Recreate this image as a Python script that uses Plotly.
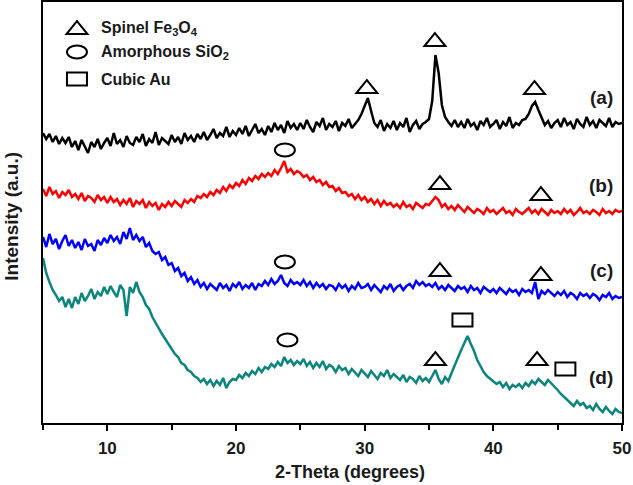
import numpy as np
import plotly.graph_objects as go

# 2-Theta scan grid (degrees)
two_theta = np.round(np.arange(5.0, 50.001, 0.25), 2)

# (a) black
series_a = [
    290, 284, 289, 281, 287, 279, 285, 280, 286, 276,
    282, 273, 283, 277, 270, 281, 276, 284, 274, 280,
    285, 277, 290, 279, 283, 276, 287, 280, 278, 286,
    281, 289, 277, 284, 280, 291, 278, 285, 282, 279,
    288, 281, 286, 279, 290, 283, 287, 281, 289, 284,
    291, 283, 288, 294, 285, 290, 287, 296, 286, 292,
    288, 295, 289, 297, 287, 293, 299, 290, 294, 288,
    297, 291, 300, 293, 298, 290, 302, 295, 299, 293,
    300, 294, 303, 296, 291, 301, 297, 305, 293, 299,
    296, 302, 292, 300, 297, 304, 295, 299, 303, 309,
    318, 325, 312, 300, 296, 303, 292, 299, 295, 302,
    293, 300, 296, 305, 291, 298, 302, 294, 299, 301,
    304, 322, 368, 350, 318, 306, 301, 297, 303, 296,
    301, 295, 304, 297, 300, 293, 302, 298, 305, 296,
    299, 303, 294, 301, 297, 306, 295, 300, 298, 303,
    304, 309, 317, 321, 313, 305, 298, 302, 295, 300,
    303, 296, 305, 298, 301, 294, 304, 299, 296, 306,
    298, 302, 295, 303, 300, 297, 305, 296, 301, 299,
    300,
]

# (b) red
series_b = [
    234, 227, 236, 229, 232, 225, 231, 228, 233, 226,
    229, 224, 230, 222, 227, 225, 221, 228, 223, 226,
    220, 226, 221, 224, 218, 223, 219, 225, 216, 222,
    219, 223, 215, 221, 217, 220, 213, 219, 216, 221,
    217, 222, 219, 216, 223, 220, 224, 221, 227, 225,
    229, 226, 231, 228, 233, 230, 236, 232, 238, 235,
    240, 237, 243, 239, 245, 242, 247, 244, 249, 246,
    250, 247, 253, 249, 255, 262, 251, 254, 249, 252,
    250, 246, 248, 243, 246, 241, 243, 238, 241, 236,
    237, 232, 235, 230, 231, 227, 229, 224, 228, 223,
    226, 221, 224, 219, 223, 217, 222, 218, 220, 216,
    219, 215, 221, 216, 218, 214, 220, 217, 215, 219,
    218, 222, 226, 223, 216, 219, 214, 217, 213, 218,
    215, 211, 216, 213, 210, 214, 212, 209, 215, 211,
    213, 209, 212, 215, 210, 212, 208, 214, 211, 209,
    212, 215, 210, 213, 209, 214, 211, 208, 213, 210,
    212, 209, 214, 210, 213, 208, 211, 215, 210, 212,
    209, 213, 211, 208, 214, 210, 212, 209, 213, 211,
    212,
]

# (c) blue
series_c = [
    186, 176, 189, 179, 184, 174, 182, 188, 177, 183,
    175, 181, 173, 184, 177, 179, 172, 183, 178, 185,
    180, 188, 182, 186, 179, 191, 184, 195, 183, 188,
    182, 186, 176, 180, 172, 169, 171, 163, 166, 158,
    160, 152, 155, 147, 150, 142, 146, 139, 143, 136,
    140, 134, 139, 136, 133, 140, 135, 138, 132, 139,
    136, 141, 134, 138, 135, 140, 133, 139, 137, 142,
    138, 144, 139, 142, 148, 140, 137, 143, 139, 141,
    138, 143, 137, 141, 135, 140, 136, 139, 134, 138,
    137, 133, 139, 135, 138, 132, 137, 134, 140, 135,
    136, 139, 133, 138, 135, 131, 137, 134, 139, 132,
    136, 138, 133, 137, 139, 135, 142, 138, 141, 137,
    139, 136, 140, 134, 137, 133, 138, 135, 132, 137,
    134, 136, 131, 137, 133, 135, 130, 136, 133, 131,
    134, 130, 135, 132, 129, 134, 131, 133, 128, 134,
    131, 133, 130, 141, 124, 132, 129, 133, 130, 127,
    131, 128, 132, 126, 130, 128, 124, 130, 127, 129,
    125, 129, 127, 123, 128, 126, 130, 124, 127, 125,
    126,
]

# (d) teal
series_d = [
    165, 150, 141, 133, 128, 122, 126, 116, 124, 115,
    126, 119, 130, 122, 127, 134, 124, 131, 127, 136,
    129, 137, 131, 126, 138, 133, 107, 136, 130, 141,
    131, 126, 118, 114, 106, 100, 94, 89, 84, 79,
    75, 69, 66, 60, 58, 53, 51, 47, 45, 41,
    44, 39, 43, 37, 42, 38, 45, 35, 41, 44,
    43, 48, 45, 50, 47, 52, 49, 55, 51, 56,
    54, 59, 56, 61, 57, 66, 60, 63, 58, 62,
    59, 64, 57, 61, 55, 60, 56, 62, 54, 58,
    56, 51, 57, 53, 55, 49, 54, 51, 47, 53,
    50, 46, 52, 48, 44, 50, 47, 53, 45, 49,
    46, 43, 48, 41, 46, 44, 40, 47, 42, 45,
    41, 47, 53, 44, 39, 46, 42, 50, 58, 66,
    73, 80, 87, 79, 72, 63, 57, 51, 47, 44,
    42, 39, 41, 36, 40, 34, 38, 36, 39, 35,
    40, 37, 42, 39, 44, 41, 38, 43, 40, 37,
    33, 29, 26, 23, 21, 17, 22, 18, 20, 15,
    17, 13, 19, 14, 11, 16, 12, 9, 14, 11,
    10,
]

series_names = ["(a)", "(b)", "(c)", "(d)"]
series_colors = ["#000000", "#ff0000", "#0000ff", "#0b857d"]
label_x = 48.4
label_y = [326, 238, 153, 46]

# phase markers (2-theta, intensity)
spinel_x = [30.17, 35.46, 43.2, 35.85, 43.7, 35.85, 43.7, 35.5, 43.4]
spinel_y = [336, 383, 335, 240, 229, 153, 149, 64, 64]
silica_x = [23.8, 23.8, 24.0]
silica_y = [273, 161, 83]
gold_x = [37.6, 45.6]
gold_y = [103, 54]

legend_labels = ["Spinel Fe<sub>3</sub>O<sub>4</sub>", "Amorphous SiO<sub>2</sub>", "Cubic Au"]
legend_y = [395, 371, 344]
legend_sym_x = 7.64
legend_text_x = 9.35

FONT = "Liberation Sans, Arial, sans-serif"
TXT = "#1a1a1a"

fig = go.Figure()
for name, col, ys in zip(series_names, series_colors, [series_a, series_b, series_c, series_d]):
    fig.add_trace(go.Scatter(x=two_theta, y=ys, mode="lines", name=name,
                             line=dict(color=col, width=2.5), showlegend=False))

shapes = []
tri_path = "M-10.5,-6 L10.5,-6 L0,7 Z"
def tri(x, y):
    return dict(type="path", xref="x", yref="y", xsizemode="pixel", ysizemode="pixel",
                xanchor=x, yanchor=y, path=tri_path, line=dict(color="black", width=2))
def ell(x, y):
    return dict(type="circle", xref="x", yref="y", xsizemode="pixel", ysizemode="pixel",
                xanchor=x, yanchor=y, x0=-10, x1=10, y0=-6.5, y1=6.5,
                line=dict(color="black", width=2))
def sq(x, y):
    return dict(type="rect", xref="x", yref="y", xsizemode="pixel", ysizemode="pixel",
                xanchor=x, yanchor=y, x0=-10, x1=10, y0=-6.5, y1=6.5,
                line=dict(color="black", width=2))

for x, y in zip(spinel_x, spinel_y):
    shapes.append(tri(x, y))
for x, y in zip(silica_x, silica_y):
    shapes.append(ell(x, y))
for x, y in zip(gold_x, gold_y):
    shapes.append(sq(x, y))
shapes.append(tri(legend_sym_x, legend_y[0]))
shapes.append(ell(legend_sym_x, legend_y[1]))
shapes.append(sq(legend_sym_x, legend_y[2]))

annotations = []
for txt, y in zip(legend_labels, legend_y):
    annotations.append(dict(x=legend_text_x, y=y, xref="x", yref="y", text=txt, showarrow=False,
                            xanchor="left", yanchor="middle",
                            font=dict(family=FONT, size=16, color=TXT, weight="bold")))
for name, y in zip(series_names, label_y):
    annotations.append(dict(x=label_x, y=y, xref="x", yref="y", text=name, showarrow=False,
                            xanchor="center", yanchor="middle",
                            font=dict(family=FONT, size=19, color=TXT, weight="bold")))
# axis titles
annotations.append(dict(x=0.53, y=0, xref="paper", yref="paper", text="2-Theta (degrees)",
                        showarrow=False, xanchor="center", yanchor="middle", yshift=-49,
                        font=dict(family=FONT, size=18, color=TXT, weight="bold")))
annotations.append(dict(x=0, y=0.49, xref="paper", yref="paper", text="Intensity (a.u.)",
                        showarrow=False, xanchor="center", yanchor="middle", xshift=-31,
                        textangle=-90,
                        font=dict(family=FONT, size=19, color=TXT, weight="bold")))

fig.update_layout(
    width=633, height=485,
    margin=dict(l=43, r=11, t=2, b=62, autoexpand=False),
    plot_bgcolor="white", paper_bgcolor="white",
    shapes=shapes, annotations=annotations,
    xaxis=dict(range=[5, 50], tickvals=[10, 20, 30, 40, 50], ticks="outside", ticklen=6,
               tickwidth=2, tickcolor="black", showline=True, linewidth=2, linecolor="black",
               mirror=True, showgrid=False, zeroline=False, automargin=False,
               ticklabelstandoff=3,
               minor=dict(tickvals=[5, 15, 25, 35, 45], ticks="outside", ticklen=5, tickwidth=2,
                          tickcolor="black", showgrid=False),
               tickfont=dict(family=FONT, size=17, color=TXT, weight="bold")),
    yaxis=dict(range=[0, 421], showticklabels=False, ticks="", showline=True, linewidth=2,
               linecolor="black", mirror=True, showgrid=False, zeroline=False,
               automargin=False),
)

fig.write_html("out.html", config={"displayModeBar": False},
               post_script="document.body.style.margin='0';document.body.style.padding='0';"
                           "document.body.style.overflow='hidden';")
